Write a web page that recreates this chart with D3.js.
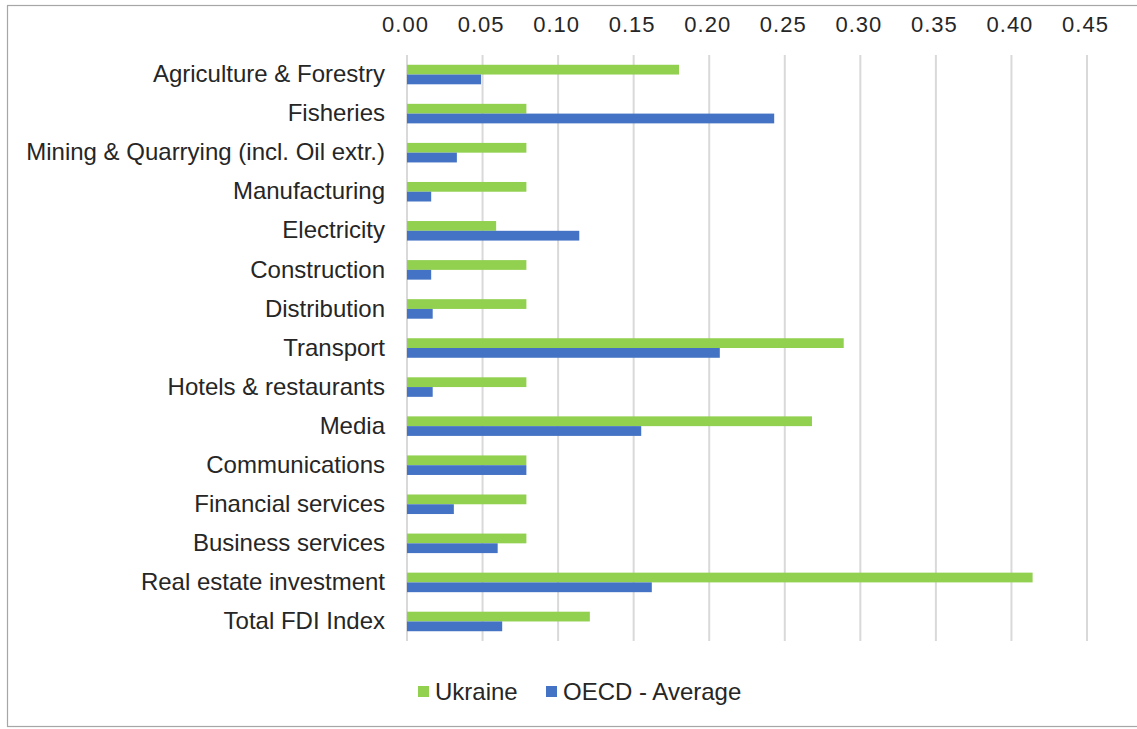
<!DOCTYPE html>
<html>
<head>
<meta charset="utf-8">
<script src="https://cdn.jsdelivr.net/npm/d3@7"></script>
<style>
  body { margin: 0; background: #fff; }
  svg { display: block; font-family: "Liberation Sans", Arial, sans-serif; }
</style>
</head>
<body>
<svg id="chart" width="1137" height="729"></svg>
<script>
// chart data
const categories = [
    "Agriculture & Forestry", "Fisheries", "Mining & Quarrying (incl. Oil extr.)",
    "Manufacturing", "Electricity", "Construction", "Distribution", "Transport",
    "Hotels & restaurants", "Media", "Communications", "Financial services",
    "Business services", "Real estate investment", "Total FDI Index"
];
const ukraine = [0.180, 0.079, 0.079, 0.079, 0.059, 0.079, 0.079, 0.289, 0.079, 0.268, 0.079, 0.079, 0.079, 0.414, 0.121];
const oecdAverage = [0.049, 0.243, 0.033, 0.016, 0.114, 0.016, 0.017, 0.207, 0.017, 0.155, 0.079, 0.031, 0.060, 0.162, 0.063];
const tickValues = [0, 0.05, 0.10, 0.15, 0.20, 0.25, 0.30, 0.35, 0.40, 0.45];
const seriesNames = ["Ukraine", "OECD - Average"];
const seriesColors = ["#92d050", "#4472c4"];

const svg = d3.select("#chart");

// outer frame like the excel chart area
svg.append("rect")
    .attr("x", 7.5).attr("y", 5.5)
    .attr("width", 1140).attr("height", 721)
    .style("fill", "none")
    .style("stroke", "#a6a6a6")
    .style("stroke-width", 1.2);

const plotLeft = 407, plotRight = 1087, plotTop = 55, plotBottom = 641;

const x = d3.scaleLinear().domain([0, 0.45]).range([plotLeft, plotRight]);
const y = d3.scaleBand().domain(categories).range([plotTop, plotBottom]).paddingInner(0.5).paddingOuter(0.25);
const inner = d3.scaleBand().domain(seriesNames).range([0, y.bandwidth()]);

// gridlines
svg.append("g")
    .selectAll("line")
    .data(tickValues)
    .enter()
    .append("line")
    .attr("x1", d => x(d)).attr("x2", d => x(d))
    .attr("y1", plotTop).attr("y2", plotBottom)
    .style("stroke", "#d9d9d9")
    .style("stroke-width", 2);

// top axis labels
const xAxis = d3.axisTop(x).tickValues(tickValues).tickFormat(d3.format(".2f")).tickSize(0).tickPadding(0);
const gx = svg.append("g").attr("transform", "translate(0,32)").call(xAxis);
gx.select(".domain").remove();
gx.selectAll("text")
    .style("font-size", "22px")
    .style("letter-spacing", "1px")
    .style("fill", "#262626")
    .attr("dx", -2)
    .attr("dy", 0);

// category labels
const yAxis = d3.axisLeft(y).tickSize(0).tickPadding(22);
const gy = svg.append("g").attr("transform", `translate(${plotLeft},0)`).call(yAxis);
gy.select(".domain").remove();
gy.selectAll("text")
    .style("font-size", "24px")
    .style("fill", "#262626");

// bars
const series = [ukraine, oecdAverage];
series.forEach((vals, si) => {
    svg.append("g")
        .selectAll("rect")
        .data(vals)
        .enter()
        .append("rect")
        .attr("x", x(0))
        .attr("y", (d, i) => y(categories[i]) + inner(seriesNames[si]))
        .attr("width", d => x(d) - x(0))
        .attr("height", inner.bandwidth())
        .style("fill", seriesColors[si]);
});

// legend
const legendX = [418, 546];
const legend = svg.append("g");
seriesNames.forEach((name, i) => {
    legend.append("rect")
        .attr("x", legendX[i]).attr("y", 686)
        .attr("width", 11).attr("height", 11)
        .style("fill", seriesColors[i]);
    legend.append("text")
        .attr("x", legendX[i] + 17).attr("y", 700)
        .style("font-size", "24px")
        .style("fill", "#262626")
        .text(name);
});
</script>
</body>
</html>
